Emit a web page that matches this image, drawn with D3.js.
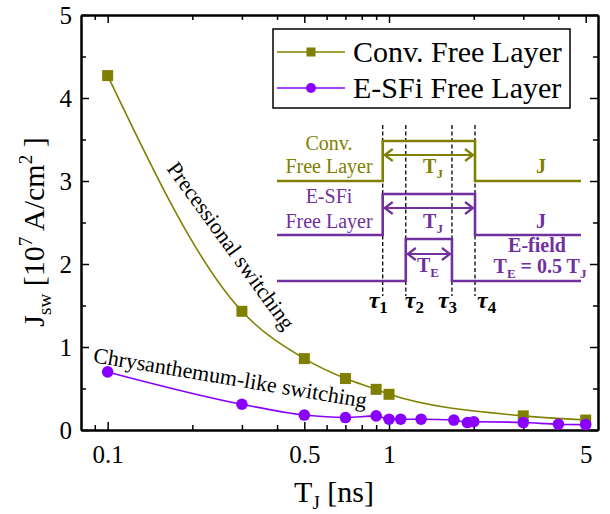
<!DOCTYPE html>
<html>
<head>
<meta charset="utf-8">
<script src="https://cdn.jsdelivr.net/npm/d3@7"></script>
<style>
  body { margin: 0; background: #fff; }
  svg { font-family: "Liberation Serif", "Times New Roman", serif; }
</style>
</head>
<body>
<div id="chart"></div>
<script>
// switching current vs pulse width
var tjConv = [0.1, 0.3, 0.5, 0.7, 0.9, 1.0, 3.0, 5.0];
var jConv = [4.27, 1.43, 0.86, 0.62, 0.49, 0.43, 0.17, 0.12];

var tjESFi = [0.1, 0.3, 0.5, 0.7, 0.9, 1.0, 1.1, 1.3, 1.7, 1.9, 2.0, 3.0, 4.0, 5.0];
var jESFi = [0.70, 0.31, 0.18, 0.15, 0.17, 0.13, 0.13, 0.13, 0.12, 0.09, 0.10, 0.09, 0.07, 0.065];

var xMajor = [0.1, 0.5, 1, 5];
var xMinor = [0.09, 0.2, 0.3, 0.4, 0.6, 0.7, 0.8, 0.9, 2, 3, 4];
var yMajor = [0, 1, 2, 3, 4, 5];
var yMinor = [0.5, 1.5, 2.5, 3.5, 4.5];

// inset timing, in units of T_J (tau1 = start of J pulse)
var tauLabels = ["1", "2", "3", "4"];
var tauTimes = [0, 0.25, 0.75, 1];
var tauShift = [-14, -1, -14, 2];

var olive = "#808000", violet = "#8a00ff", purple = "#7030a0";

var width = 610, height = 514;
var margin = { top: 15, left: 81, right: 12, bottom: 84 };

var svg = d3.select("#chart").append("svg")
    .attr("width", width)
    .attr("height", height);

var x = d3.scaleLog()
    .domain([0.0804, 5.53])
    .range([margin.left, width - margin.right]);

var y = d3.scaleLinear()
    .domain([0, 5])
    .range([height - margin.bottom, margin.top]);

var x0 = margin.left, x1 = width - margin.right;
var y0 = height - margin.bottom, y1 = margin.top;

function styleAxis(g) {
  g.attr("font-family", null);
  g.select(".domain").attr("stroke", "#000").attr("stroke-width", 2);
  g.selectAll(".tick line").attr("stroke", "#000").attr("stroke-width", 1.5);
  g.selectAll(".tick text").attr("fill", "#000").style("font-size", "25px");
}

// minor ticks first
[[d3.axisBottom, y0, xMinor, x, "x"], [d3.axisTop, y1, xMinor, x, "x"],
 [d3.axisLeft, x0, yMinor, y, "y"], [d3.axisRight, x1, yMinor, y, "y"]].forEach(function(a) {
  var ax = a[0](a[3]).tickValues(a[2]).tickSize(-5).tickSizeOuter(0).tickFormat("");
  svg.append("g")
    .attr("transform", a[4] === "x" ? "translate(0," + a[1] + ")" : "translate(" + a[1] + ",0)")
    .call(ax).call(styleAxis);
});

svg.append("g")
    .attr("transform", "translate(0," + y0 + ")")
    .call(d3.axisBottom(x).tickValues(xMajor).tickSize(-8).tickSizeOuter(0).tickPadding(15)
      .tickFormat(function(d) { return d; }))
    .call(styleAxis);

svg.append("g")
    .attr("transform", "translate(0," + y1 + ")")
    .call(d3.axisTop(x).tickValues(xMajor).tickSize(-8).tickSizeOuter(0).tickFormat(""))
    .call(styleAxis);

svg.append("g")
    .attr("transform", "translate(" + x0 + ",0)")
    .call(d3.axisLeft(y).tickValues(yMajor).tickSize(-8).tickSizeOuter(0).tickPadding(9)
      .tickFormat(d3.format("d")))
    .call(styleAxis);

svg.append("g")
    .attr("transform", "translate(" + x1 + ",0)")
    .call(d3.axisRight(y).tickValues(yMajor).tickSize(-8).tickSizeOuter(0).tickFormat(""))
    .call(styleAxis);

// axis titles
var xt = svg.append("text")
    .attr("x", 334).attr("y", 502)
    .attr("text-anchor", "middle")
    .style("font-size", "30px");
xt.append("tspan").text("T");
xt.append("tspan").attr("dy", 7).style("font-size", "19px").text("J");
xt.append("tspan").attr("dy", -7).text(" [ns]");

var yt = svg.append("text")
    .attr("transform", "translate(44,232) rotate(-90)")
    .attr("text-anchor", "middle")
    .style("font-size", "30px");
yt.append("tspan").text("J");
yt.append("tspan").attr("dy", 7).style("font-size", "19px").text("sw");
yt.append("tspan").attr("dy", -7).text(" [10");
yt.append("tspan").attr("dy", -12).style("font-size", "19px").text("7");
yt.append("tspan").attr("dy", 12).text(" A/cm");
yt.append("tspan").attr("dy", -12).style("font-size", "19px").text("2");
yt.append("tspan").attr("dy", 12).text(" ]");

// curves
var line = d3.line()
    .x(function(d) { return x(d[0]); })
    .y(function(d) { return y(d[1]); })
    .curve(d3.curveMonotoneX);

var convData = d3.zip(tjConv, jConv);
var esfiData = d3.zip(tjESFi, jESFi);

svg.append("path")
    .datum(convData)
    .attr("d", line)
    .attr("fill", "none")
    .attr("stroke", olive)
    .attr("stroke-width", 1.6);

svg.append("path")
    .datum(esfiData)
    .attr("d", line)
    .attr("fill", "none")
    .attr("stroke", violet)
    .attr("stroke-width", 1.6);

svg.selectAll(".sq")
  .data(convData)
  .enter().append("rect")
    .attr("class", "sq")
    .attr("x", function(d) { return x(d[0]) - 5.5; })
    .attr("y", function(d) { return y(d[1]) - 5.5; })
    .attr("width", 11)
    .attr("height", 11)
    .attr("fill", olive);

svg.selectAll(".dot")
  .data(esfiData)
  .enter().append("circle")
    .attr("class", "dot")
    .attr("cx", function(d) { return x(d[0]); })
    .attr("cy", function(d) { return y(d[1]); })
    .attr("r", 5.8)
    .attr("fill", violet);

// annotations
svg.append("text")
    .attr("transform", "translate(225,250) rotate(54)")
    .attr("text-anchor", "middle")
    .style("font-size", "22px")
    .text("Precessional switching");

svg.append("text")
    .attr("transform", "translate(229,385) rotate(9.5)")
    .attr("text-anchor", "middle")
    .style("font-size", "22px")
    .text("Chrysanthemum-like switching");

// legend
var legend = svg.append("g");
legend.append("rect")
    .attr("x", 273).attr("y", 29)
    .attr("width", 297).attr("height", 79)
    .attr("fill", "#fff")
    .attr("stroke", "#000")
    .attr("stroke-width", 1.5);

var legendItems = [
  { name: "Conv. Free Layer", color: olive, shape: "square", y: 52 },
  { name: "E-SFi Free Layer", color: violet, shape: "circle", y: 88 }
];
legendItems.forEach(function(d) {
  legend.append("line")
      .attr("x1", 277).attr("x2", 345)
      .attr("y1", d.y).attr("y2", d.y)
      .attr("stroke", d.color).attr("stroke-width", 1.6);
  if (d.shape === "square") {
    legend.append("rect")
        .attr("x", 311 - 4.5).attr("y", d.y - 4.5)
        .attr("width", 9).attr("height", 9)
        .attr("fill", d.color);
  } else {
    legend.append("circle")
        .attr("cx", 311).attr("cy", d.y).attr("r", 5)
        .attr("fill", d.color);
  }
  legend.append("text")
      .attr("x", 353).attr("y", d.y + 10)
      .style("font-size", "30px")
      .text(d.name);
});

// inset: pulse timing schematic
var tx = d3.scaleLinear().domain([-1.145, 2.148]).range([277, 581]);

var inset = svg.append("g");

inset.selectAll(".tau")
  .data(tauTimes)
  .enter().append("line")
    .attr("x1", function(d) { return tx(d); })
    .attr("x2", function(d) { return tx(d); })
    .attr("y1", 125).attr("y2", 296)
    .attr("stroke", "#000")
    .attr("stroke-width", 1.3)
    .attr("stroke-dasharray", "4,2.5");

var traces = [
  { start: tauTimes[0], end: tauTimes[3], base: 181, top: 141, color: olive, arrowY: 155 },
  { start: tauTimes[0], end: tauTimes[3], base: 235, top: 194, color: purple, arrowY: 208 },
  { start: tauTimes[1], end: tauTimes[2], base: 281, top: 239, color: purple, arrowY: 254 }
];

traces.forEach(function(t) {
  var a = tx(-1.145), b = tx(t.start), c = tx(t.end), e = tx(2.148);
  inset.append("path")
      .attr("d", "M" + a + "," + t.base + "H" + b + "V" + t.top + "H" + c + "V" + t.base + "H" + e)
      .attr("fill", "none")
      .attr("stroke", t.color)
      .attr("stroke-width", 2.6);
  // double arrow
  var ay = t.arrowY, h = 6;
  inset.append("path")
      .attr("d", "M" + (b + 2) + "," + ay + "H" + (c - 2) +
        "M" + (b + 2 + h + 2) + "," + (ay - h) + "L" + (b + 2) + "," + ay + "L" + (b + 2 + h + 2) + "," + (ay + h) +
        "M" + (c - 2 - h - 2) + "," + (ay - h) + "L" + (c - 2) + "," + ay + "L" + (c - 2 - h - 2) + "," + (ay + h))
      .attr("fill", "none")
      .attr("stroke", t.color)
      .attr("stroke-width", 2.2);
});

function subText(g, xx, yy, main, sub, color, size, weight) {
  var t = g.append("text")
      .attr("x", xx).attr("y", yy)
      .attr("text-anchor", "middle")
      .attr("fill", color)
      .style("font-size", size + "px")
      .style("font-weight", weight);
  t.append("tspan").text(main);
  t.append("tspan").attr("dy", 5).style("font-size", (size * 0.65) + "px").text(sub);
  return t;
}

function plainText(g, xx, yy, s, color, weight) {
  g.append("text")
      .attr("x", xx).attr("y", yy)
      .attr("text-anchor", "middle")
      .attr("fill", color)
      .style("font-size", "20px")
      .style("font-weight", weight)
      .text(s);
}

plainText(inset, 329, 150, "Conv.", olive, "normal");
plainText(inset, 329, 173, "Free Layer", olive, "normal");
plainText(inset, 329, 203, "E-SFi", purple, "normal");
plainText(inset, 329, 228, "Free Layer", purple, "normal");

subText(inset, 433, 173, "T", "J", olive, 20, "bold");
subText(inset, 433, 228, "T", "J", purple, 20, "bold");
subText(inset, 428, 272, "T", "E", purple, 20, "bold");

plainText(inset, 541, 173, "J", olive, "bold");
plainText(inset, 541, 228, "J", purple, "bold");
plainText(inset, 537, 252, "E-field", purple, "bold");

var te = inset.append("text")
    .attr("x", 540).attr("y", 273)
    .attr("text-anchor", "middle")
    .attr("fill", purple)
    .style("font-size", "20px")
    .style("font-weight", "bold");
te.append("tspan").text("T");
te.append("tspan").attr("dy", 5).style("font-size", "13px").text("E");
te.append("tspan").attr("dy", -5).text(" = 0.5 T");
te.append("tspan").attr("dy", 5).style("font-size", "13px").text("J");

inset.selectAll(".taulabel")
  .data(tauTimes)
  .enter().append("text")
    .attr("x", function(d, i) { return tx(d) + tauShift[i]; })
    .attr("y", 308)
    .style("font-size", "24px")
    .style("font-weight", "bold")
    .style("font-style", "italic")
    .each(function(d, i) {
      var t = d3.select(this);
      t.append("tspan").text("\u03c4");
      t.append("tspan").attr("dy", 5).style("font-size", "17px").style("font-style", "normal").text(tauLabels[i]);
    });
</script>
</body>
</html>
